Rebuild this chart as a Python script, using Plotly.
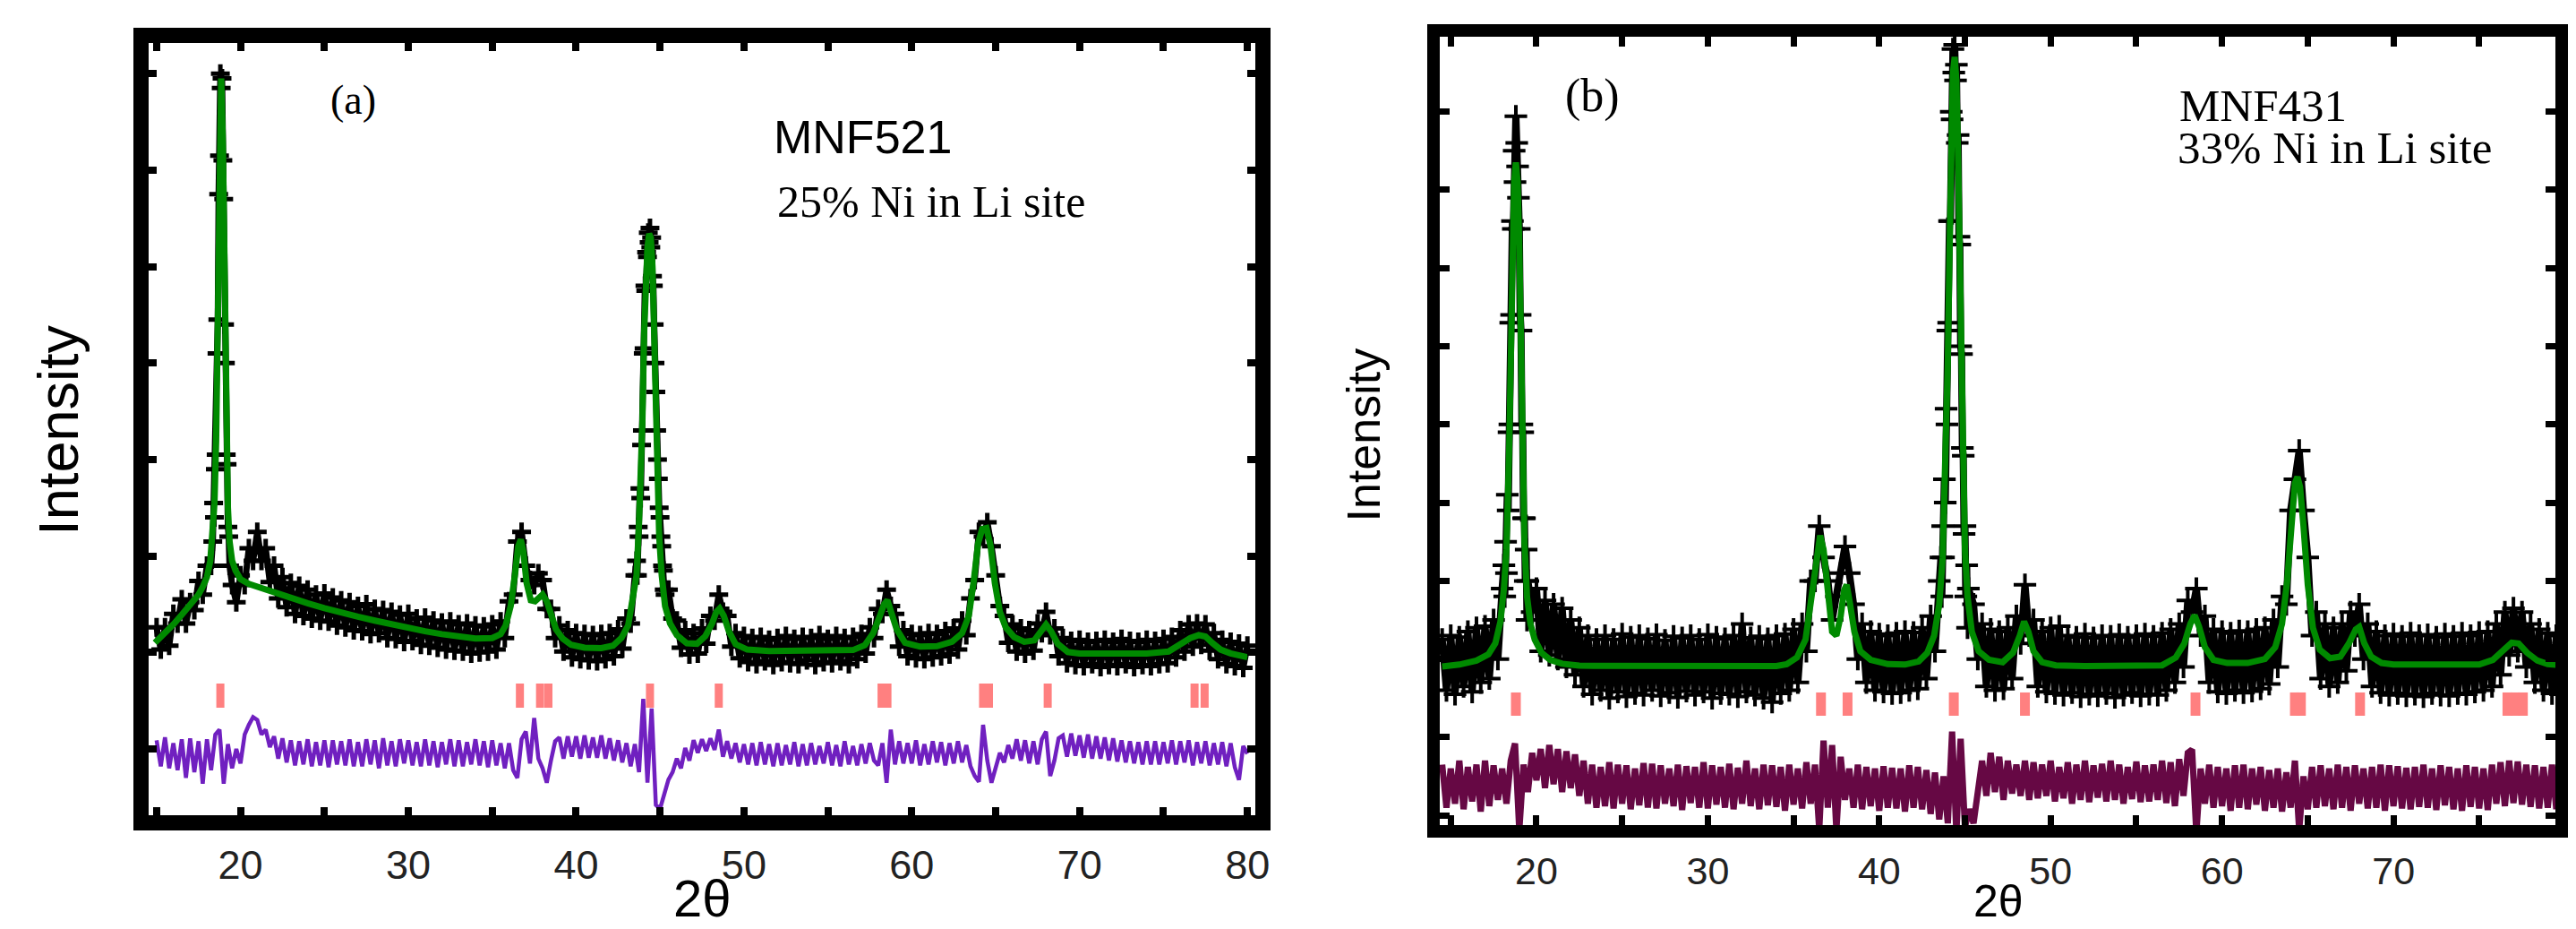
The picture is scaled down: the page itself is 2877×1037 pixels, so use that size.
import plotly.graph_objects as go

# ------------------------------------------------------------------ data (a)
A_CALC_X = [14.9, 15.5, 16.0, 16.5, 17.0, 17.5, 17.75, 18.0, 18.2, 18.35, 18.45, 18.55, 18.65, 18.75, 18.85,
            18.95, 19.05, 19.15, 19.25, 19.35, 19.5, 19.7, 20.0, 20.5, 21.0, 22.0, 23.0, 24.0, 25.0, 26.0,
            27.0, 28.0, 29.0, 30.0, 31.0, 32.0, 33.0, 34.0, 35.0, 35.5, 35.8, 36.1, 36.35, 36.55, 36.7,
            36.85, 37.05, 37.3, 37.55, 37.8, 38.0, 38.25, 38.5, 38.8, 39.2, 39.7, 40.5, 41.5, 42.2, 42.7,
            43.1, 43.4, 43.6, 43.75, 43.85, 43.95, 44.05, 44.15, 44.25, 44.35, 44.45, 44.55, 44.65, 44.75,
            44.85, 44.95, 45.1, 45.3, 45.6, 46.0, 46.6, 47.2, 47.7, 48.1, 48.35, 48.55, 48.8, 49.1, 49.5,
            50.2, 51.5, 53.0, 55.0, 56.5, 57.2, 57.7, 58.1, 58.35, 58.55, 58.8, 59.1, 59.6, 60.5, 61.5,
            62.4, 63.0, 63.4, 63.7, 63.95, 64.2, 64.45, 64.7, 64.95, 65.25, 65.6, 66.1, 66.7, 67.3, 67.7,
            68.0, 68.3, 68.7, 69.3, 70.0, 72.0, 74.0, 75.3, 76.0, 76.6, 77.1, 77.5, 77.9, 78.4, 79.0, 80.0]
A_CALC_Y = [2100, 2200, 2290, 2390, 2490, 2600, 2680, 2780, 2950, 3250, 3550, 4200, 5600, 7300, 7950,
            7300, 5600, 4200, 3500, 3150, 2950, 2850, 2760, 2710, 2680, 2620, 2560, 2510, 2460, 2410,
            2370, 2330, 2290, 2255, 2220, 2190, 2165, 2145, 2150, 2190, 2280, 2480, 2800, 3100, 3170,
            3050, 2720, 2540, 2530, 2580, 2600, 2530, 2380, 2240, 2145, 2080, 2050, 2045, 2070, 2150,
            2280, 2550, 2800, 3350, 3750, 4400, 5300, 5900, 6200, 6340, 6300, 6000, 5300, 4400,
            3650, 3200, 2800, 2480, 2300, 2180, 2095, 2090, 2170, 2300, 2420, 2455, 2380, 2220, 2085,
            2030, 2015, 2015, 2015, 2025, 2075, 2200, 2380, 2500, 2540, 2420, 2240, 2100, 2060, 2065,
            2110, 2200, 2380, 2750, 3130, 3280, 3290, 3100, 2720, 2420, 2260, 2160, 2110, 2125, 2230,
            2290, 2220, 2090, 2005, 1990, 1990, 1990, 2010, 2080, 2150, 2180, 2165, 2100, 2030, 1990, 1950]

# observed scan, stored as segments: (start 2theta, step, intensities)
A_OBS_START = [15.0, 18.35, 19.5, 43.6, 45.5]
A_OBS_STEP = [0.25, 0.05, 0.25, 0.05, 0.25]
A_OBS_1 = [2260, 2030, 2260, 2070, 2400, 2300, 2550, 2300, 2520, 2440, 2740, 2600, 2900, 2900]
A_OBS_2 = [3150, 3550, 3400, 3900, 4050, 5100, 5450, 6750, 7150, 8000, 7850, 7950, 7100, 6700, 5400,
           5000, 4050, 3950, 3300, 3200, 2900]
A_OBS_3 = [2700, 2520, 2800, 2700, 3080, 2950, 3250, 2950, 3080, 2730, 2900,
           2560, 2780, 2470, 2720, 2400, 2690, 2380, 2650, 2350, 2600, 2330, 2610,
           2320, 2570, 2280, 2540, 2260, 2520, 2230, 2480, 2220, 2500, 2190, 2450,
           2200, 2440, 2150, 2420, 2140, 2390, 2110, 2400, 2120, 2350, 2080, 2360,
           2070, 2330, 2050, 2310, 2030, 2320, 2020, 2290, 2010, 2300, 1990, 2280,
           2000, 2270, 2010, 2290, 2030, 2320, 2150, 2530, 2600, 3150, 3250, 2900,
           2750, 2700, 2820, 2750, 2450, 2450, 2150, 2280, 2010, 2230, 1950, 2200,
           1930, 2190, 1920, 2180, 1910, 2190, 1930, 2200, 1960, 2240, 2040, 2350,
           2300, 2800]
A_OBS_4 = [2950, 2800, 3300, 3200, 3700, 3600, 4150, 4300, 5100, 5150, 5800, 5750, 6150, 6100, 6350,
           6250, 6400, 6200, 6300, 5900, 5800, 5400, 5000, 4700, 4300, 4000, 3800, 3500, 3400, 3200,
           3100, 2900, 2850, 2650, 2600]
A_OBS_5 = [2650, 2350, 2330, 2050, 2230, 1980, 2200, 1990, 2250, 2090, 2380, 2330, 2600, 2420, 2380,
           2060, 2200, 1940, 2170,
           1900, 2150, 1880, 2160, 1910, 2130, 1870, 2150, 1900, 2170, 1890, 2140, 1880, 2160, 1920,
           2150, 1870, 2180, 1900, 2140, 1890, 2170, 1910, 2150, 1880, 2160,
           1930, 2190, 1990, 2260, 2150, 2450, 2400, 2650, 2480, 2400, 2060, 2230, 1960, 2190, 1940,
           2180, 1930, 2200, 1950, 2190, 1960, 2220, 1980, 2250, 2030, 2330,
           2180, 2560, 2750, 3250, 3200, 3350, 3100, 2800, 2480, 2380, 2100, 2290, 2010, 2250, 1990,
           2230, 2020, 2300, 2200, 2420, 2180, 2250, 1960, 2150, 1890, 2120,
           1870, 2130, 1860, 2110, 1880, 2120, 1850, 2130, 1870, 2110, 1860, 2140, 1880, 2120, 1850,
           2110, 1870, 2130, 1860, 2120, 1880, 2140, 1890, 2160, 1950, 2230,
           2010, 2290, 2060, 2300, 2080, 2290, 2020, 2200, 1930, 2130, 1880, 2110, 1860, 2090, 1840, 2070]

# difference curve (offset), 2theta from 15.0 in steps of 0.25
A_DIFF_START = 15.0
A_DIFF_STEP = 0.25
A_DIFF = [1090, 820, 1120, 800,
          1060, 780, 1100, 700,
          1110, 760, 1080, 640,
          1100, 780, 1150, 1200,
          640, 1050, 800, 1000,
          850, 1150, 1250, 1330,
          1300, 1150, 1200, 1020,
          1130, 900, 1110, 860,
          1090, 830, 1080, 840,
          1100, 820, 1070, 830,
          1090, 810, 1090, 840,
          1080, 830, 1100, 820,
          1070, 820, 1100, 840,
          1090, 800, 1110, 830,
          1080, 820, 1100, 850,
          1090, 830, 1070, 820,
          1100, 830, 1080, 810,
          1070, 840, 1100, 820,
          1090, 820, 1070, 840,
          1100, 830, 1080, 810,
          1090, 830, 1060, 800,
          1060, 780, 700, 1100,
          1180, 850, 1320, 900,
          800, 650, 880, 1080,
          1120, 900, 1130, 920,
          1130, 900, 1140, 910,
          1120, 910, 1140, 900,
          1110, 880, 1090, 860,
          1060, 820, 1050, 760,
          1520, 650, 1420, 420,
          380, 520, 680, 760,
          900, 800, 1010, 880,
          1090, 960, 1100, 980,
          1110, 990, 1200, 920,
          1080, 900, 1060, 860,
          1050, 840, 1060, 830,
          1070, 840, 1050, 820,
          1060, 830, 1040, 840,
          1070, 820, 1050, 830,
          1060, 840, 1030, 850,
          1070, 830, 1040, 820,
          1080, 840, 1030, 830,
          1050, 850, 1060, 880,
          830, 1060, 650, 1200,
          840, 1080, 850, 1060,
          850, 1090, 830, 1050,
          840, 1080, 860, 1070,
          830, 1060, 850, 1080,
          860, 1040, 820, 720,
          660, 1250, 880, 650,
          800, 960, 860, 1040,
          900, 1100, 880, 1090,
          850, 1080, 840, 1100,
          1180, 720, 880, 1110,
          1140, 920, 1160, 930,
          1140, 910, 1150, 900,
          1130, 900, 1120, 880,
          1110, 870, 1090, 860,
          1080, 850, 1070, 840,
          1080, 840, 1080, 840,
          1070, 850, 1090, 840,
          1080, 860, 1090, 830,
          1070, 850, 1080, 830,
          1060, 840, 1070, 820,
          1060, 810, 680, 1030,
          950]

A_REFL = [18.8, 36.65, 37.85, 38.35, 44.4, 48.5, 58.2, 58.55, 64.25, 64.6, 68.1, 76.85, 77.45]
A_REFL_LOW, A_REFL_HIGH = 1427, 1678

# ------------------------------------------------------------------ data (b)
B_CALC_X = [14.5, 15.5, 16.5, 17.2, 17.6, 17.9, 18.1, 18.25, 18.4, 18.5, 18.6, 18.7, 18.8, 18.9, 19.0,
            19.1, 19.2, 19.3, 19.45, 19.65, 19.9, 20.3, 20.8, 21.5, 22.5, 25.0, 30.0, 34.0, 34.6, 35.2,
            35.7, 36.0, 36.3, 36.55, 36.75, 37.0, 37.25, 37.5, 37.75, 37.95, 38.1, 38.3, 38.55, 38.9,
            39.5, 40.5, 41.5, 42.3, 42.8, 43.2, 43.5, 43.7, 43.85, 44.0, 44.1, 44.2, 44.3, 44.4, 44.5,
            44.6, 44.7, 44.8, 44.9, 45.0, 45.15, 45.4, 45.8, 46.4, 47.2, 47.8, 48.2, 48.45, 48.7, 49.0,
            49.5, 50.3, 52.0, 55.0, 56.5, 57.3, 57.8, 58.15, 58.4, 58.65, 59.0, 59.5, 60.3, 61.5, 62.5,
            63.1, 63.5, 63.8, 64.05, 64.25, 64.4, 64.55, 64.75, 65.0, 65.3, 65.7, 66.3, 66.9, 67.4, 67.8,
            68.0, 68.3, 68.7, 69.3, 70.0, 75.0, 75.8, 76.4, 76.9, 77.3, 77.8, 78.4, 79.0, 79.8]
B_CALC_Y = [1905, 1930, 1980, 2060, 2200, 2480, 2900, 3400, 4600, 6000, 7300, 8100, 8350, 8100, 7300,
            6000, 4600, 3500, 2800, 2450, 2250, 2080, 1990, 1940, 1915, 1910, 1910, 1910, 1935, 2020,
            2250, 2700, 3250, 3580, 3400, 2800, 2350, 2300, 2550, 2880, 2950, 2700, 2350, 2100,
            1990, 1935, 1930, 1970, 2080, 2300, 2700, 3300, 4300, 5800, 7200, 8600, 9500, 9700, 9400,
            8400, 7000, 5600, 4300, 3400, 2800, 2350, 2100, 1990, 1960, 2080, 2300, 2480, 2350, 2100,
            1960, 1920, 1910, 1910, 1920, 2020, 2200, 2450, 2560, 2420, 2150, 1990, 1950, 1950, 2000,
            2150, 2450, 3000, 3800, 4250, 4330, 4200, 3700, 2950, 2400, 2120, 2010, 2030, 2200, 2380,
            2410, 2200, 2030, 1950, 1930, 1930, 1990, 2100, 2210, 2200, 2080, 1980, 1935, 1920]

B_OBS_START = [14.5, 18.1, 19.75, 43.6, 45.5]
B_OBS_STEP = [0.25, 0.05, 0.25, 0.05, 0.25]
B_OBS_1 = [2250, 1600, 2300, 1550, 2280, 1650, 2350, 1580, 2400, 1700, 2420, 1750, 2500, 2000, 2900]
B_OBS_2 = [3200, 2800, 3500, 3100, 4100, 3900, 4900, 5000, 6300, 6400, 7600, 7500, 8500, 8100, 8940,
           8600, 8300, 7900, 7500, 6400, 6200, 5000, 4900, 3800, 3800, 3000, 3400, 2500, 3000]
B_OBS_3 = [2600, 2900, 2100, 2750, 2050, 2700, 2000, 2650, 1900, 2500, 1800, 2400,
           1650, 2300, 1550, 2250, 1600, 2300, 1500, 2250, 1580, 2320, 1520, 2280,
           1560, 2300, 1540, 2260, 1600, 2310, 1530, 2240, 1570, 2290, 1510, 2270,
           1590, 2300, 1540, 2250, 1580, 2310, 1500, 2280, 1560, 2260, 1550, 2300,
           1520, 2450, 1580, 2270, 1540, 2290, 1500, 2260, 1450, 2300, 1560, 2320,
           1600, 2380, 1700, 2450, 2100, 3000, 3000, 3700, 3300, 3000, 2500, 2800,
           3100, 3440, 3100, 2700, 2000, 2450, 1700, 2350, 1600, 2320, 1580, 2300,
           1560, 2330, 1570, 2350, 1600, 2340, 1620, 2400, 1750, 2550, 2100, 3000]
B_OBS_4 = [3300, 2800, 3700, 3300, 4300, 4000, 5200, 5000, 6200, 6300, 7600, 7600, 9000, 8900, 9800,
           9500, 9856, 9400, 9600, 8600, 8700, 7400, 7300, 6000, 5900, 4700, 4600, 3600, 3700, 2800,
           3200, 2400, 2900]
B_OBS_5 = [2700, 2000, 2450, 1650, 2380, 1600, 2350, 1620, 2400, 1750, 2550, 2200, 2950, 2300, 2500,
           1650, 2350, 1580, 2400,
           1560, 2420, 1540, 2300, 1570, 2280, 1520, 2320, 1550, 2270, 1530, 2300, 1560, 2290, 1510,
           2310, 1540, 2280, 1570, 2300, 1530, 2320, 1550, 2290, 1540, 2330,
           1600, 2380, 1700, 2450, 1900, 2750, 2600, 2900, 2300, 2550, 1700, 2380, 1580, 2350, 1560,
           2330, 1600, 2360, 1570, 2350, 1590, 2380, 1620, 2400, 1680, 2500,
           1900, 2800, 2700, 3900, 4300, 4666, 3900, 3300, 2300, 2600, 1750, 2450, 1650, 2400, 1700,
           2450, 1850, 2600, 2300, 2700, 2000, 2450, 1650, 2350, 1570, 2300,
           1540, 2320, 1560, 2290, 1530, 2330, 1550, 2300, 1520, 2310, 1560, 2280, 1540, 2320, 1530,
           2290, 1560, 2330, 1550, 2300, 1580, 2340, 1600, 2350, 1650, 2450,
           1800, 2600, 2050, 2650, 2100, 2600, 1900, 2450, 1700, 2380, 1600, 2330, 1560, 2300, 1550, 2300]

B_DIFF_START = 14.5
B_DIFF_STEP = 0.25
B_DIFF = [650, 100,
          600, 150, 700, 80,
          620, 180, 650, 50,
          700, 120, 640, 200,
          600, 150, 700, 920,
          -190, 650, 300, 800,
          450, 850, 350, 900,
          400, 850, 300, 820,
          350, 780, 250, 700,
          150, 650, 100, 620,
          120, 680, 90, 650,
          150, 640, 80, 600,
          130, 670, 100, 660,
          90, 640, 150, 600,
          120, 650, 70, 630,
          160, 620, 100, 680,
          90, 640, 140, 620,
          100, 660, 80, 610,
          150, 700, 120, 600,
          80, 650, 130, 640,
          110, 620, 60, 650,
          140, 600, 90, 680,
          150, 650, -180, 958,
          100, 900, -190, 750,
          200, 600, 100, 650,
          80, 620, 120, 600,
          60, 630, 100, 610,
          90, 600, 50, 640,
          100, 620, 80, 580,
          20, 550, -50, 500,
          -100, 1072, -225, 980,
          -150, 80, -100, 300,
          700, 250, 800, 300,
          750, 200, 700, 280,
          650, 250, 700, 200,
          680, 220, 650, 250,
          700, 180, 620, 220,
          680, 150, 650, 200,
          700, 170, 640, 230,
          660, 180, 700, 200,
          650, 150, 620, 210,
          690, 170, 640, 180,
          650, 200, 700, 160,
          680, 120, 720, 250,
          800, 843, -225, 600,
          150, 650, 100, 620,
          120, 600, 60, 640,
          100, 650, 80, 600,
          140, 620, 60, 580,
          100, 600, 50, 550,
          100, 700, -190, 500,
          80, 620, 100, 640,
          120, 600, 80, 650,
          100, 620, 60, 640,
          150, 600, 90, 620,
          100, 650, 60, 640,
          120, 630, 90, 610,
          80, 620, 110, 650,
          100, 600, 70, 640,
          130, 620, 80, 600,
          60, 640, 110, 620,
          90, 600, 70, 650,
          150, 680, 120, 700,
          160, 690, 140, 650,
          110, 640, 90, 620,
          100, 650, 80, 640,
          400]

B_REFL = [18.8, 36.6, 38.15, 44.35, 48.5, 58.45, 64.25, 64.6, 68.05, 76.65, 77.1, 77.55]
B_REFL_LOW, B_REFL_HIGH = 1275, 1573

X_TICKS = [15, 20, 25, 30, 35, 40, 45, 50, 55, 60, 65, 70, 75, 80]
X_TICK_TEXT = ["", "20", "", "30", "", "40", "", "50", "", "60", "", "70", "", "80"]
A_Y_TICKS = [1000, 2000, 3000, 4000, 5000, 6000, 7000, 8000]
B_Y_TICKS = [0, 1000, 2000, 3000, 4000, 5000, 6000, 7000, 8000, 9000]


def segments(starts, steps, segs):
    xs, ys = [], []
    for s, st, vals in zip(starts, steps, segs):
        for i, v in enumerate(vals):
            xs.append(round(s + i * st, 4))
            ys.append(v)
    return xs, ys


def refl_lines(pos, lo, hi):
    xs, ys = [], []
    for p in pos:
        xs += [p, p, None]
        ys += [lo, hi, None]
    return xs, ys


W, H = 2877, 1037
fig = go.Figure()

# ---- panel (a)
ax_obs, ay_obs = segments(A_OBS_START, A_OBS_STEP, [A_OBS_1, A_OBS_2, A_OBS_3, A_OBS_4, A_OBS_5])
ax_diff = [round(A_DIFF_START + i * A_DIFF_STEP, 4) for i in range(len(A_DIFF))]
arx, ary = refl_lines(A_REFL, A_REFL_LOW, A_REFL_HIGH)

fig.add_trace(go.Scatter(x=ax_obs, y=ay_obs, mode="lines+markers", xaxis="x", yaxis="y",
                         line=dict(color="black", width=7),
                         marker=dict(symbol="cross-thin", size=15, line=dict(color="black", width=5))))
fig.add_trace(go.Scatter(x=A_CALC_X, y=A_CALC_Y, mode="lines", xaxis="x", yaxis="y",
                         line=dict(color="#008a00", width=7)))
fig.add_trace(go.Scatter(x=arx, y=ary, mode="lines", xaxis="x", yaxis="y",
                         line=dict(color="#ff8080", width=9)))
fig.add_trace(go.Scatter(x=ax_diff, y=A_DIFF, mode="lines", xaxis="x", yaxis="y",
                         line=dict(color="#7020c0", width=4.5)))

# ---- panel (b)
bx_obs, by_obs = segments(B_OBS_START, B_OBS_STEP, [B_OBS_1, B_OBS_2, B_OBS_3, B_OBS_4, B_OBS_5])
bx_diff = [round(B_DIFF_START + i * B_DIFF_STEP, 4) for i in range(len(B_DIFF))]
brx, bry = refl_lines(B_REFL, B_REFL_LOW, B_REFL_HIGH)

fig.add_trace(go.Scatter(x=bx_obs, y=by_obs, mode="lines+markers", xaxis="x2", yaxis="y2",
                         line=dict(color="black", width=8),
                         marker=dict(symbol="cross-thin", size=18, line=dict(color="black", width=4))))
fig.add_trace(go.Scatter(x=B_CALC_X, y=B_CALC_Y, mode="lines", xaxis="x2", yaxis="y2",
                         line=dict(color="#008a00", width=7)))
fig.add_trace(go.Scatter(x=brx, y=bry, mode="lines", xaxis="x2", yaxis="y2",
                         line=dict(color="#ff8080", width=11)))
fig.add_trace(go.Scatter(x=bx_diff, y=B_DIFF, mode="lines", xaxis="x2", yaxis="y2",
                         line=dict(color="#660844", width=7)))

SANS = "Liberation Sans, Arial, sans-serif"
SERIF = "Liberation Serif, Times New Roman, serif"


def xaxis(domain, rng, anchor, lw, tl, tw, fs):
    return dict(domain=domain, range=rng, anchor=anchor, tickvals=X_TICKS, ticktext=X_TICK_TEXT,
                ticks="inside", ticklen=tl, tickwidth=tw, tickcolor="black",
                showline=True, linewidth=lw, linecolor="black", mirror="allticks",
                showgrid=False, zeroline=False,
                tickfont=dict(family=SANS, size=fs, color="#222"))


def yaxis(domain, rng, anchor, ticks, lw, tl, tw):
    return dict(domain=domain, range=rng, anchor=anchor, tickvals=ticks, showticklabels=False,
                ticks="inside", ticklen=tl, tickwidth=tw, tickcolor="black",
                showline=True, linewidth=lw, linecolor="black", mirror="allticks",
                showgrid=False, zeroline=False)


def px(xp, yp):
    return xp / W, 1 - yp / H


annots = []


def note(text, xp, yp, size, family, xanchor="center", angle=0):
    x, y = px(xp, yp)
    annots.append(dict(text=text, x=x, y=y, xref="paper", yref="paper", showarrow=False,
                       xanchor=xanchor, yanchor="middle", textangle=angle,
                       font=dict(size=size, family=family, color="black")))


note("(a)", 397, 112, 46, SERIF)
note("MNF521", 969, 153, 52, SANS)
note("25% Ni in Li site", 1046, 225, 50, SERIF)
note("Intensity", 65, 480, 63, SANS, angle=-90)
note("2θ", 789, 1002, 58, SANS)

note("(b)", 1788, 107, 52, SERIF)
note("MNF431", 2446, 118, 51, SERIF, xanchor="left")
note("33% Ni in Li site", 2444, 165, 51, SERIF, xanchor="left")
note("Intensity", 1532, 485, 52, SANS, angle=-90)
note("2θ", 2244, 1006, 50, SANS)

fig.update_layout(
    width=W, height=H, margin=dict(l=0, r=0, t=0, b=0),
    paper_bgcolor="white", plot_bgcolor="white", showlegend=False,
    xaxis=xaxis([167 / W, 1410 / W], [14.53, 80.48], "y", 17, 9, 8, 45),
    yaxis=yaxis([1 - 910 / H, 1 - 48 / H], [313, 8317], "x", A_Y_TICKS, 17, 9, 8),
    xaxis2=xaxis([1617 / W, 2870 / W], [14.36, 79.45], "y2", 14, 11, 7, 43),
    yaxis2=yaxis([1 - 921 / H, 1 - 41 / H], [-123, 9958], "x2", B_Y_TICKS, 14, 11, 7),
    annotations=annots,
)

fig.write_html("out.html")
